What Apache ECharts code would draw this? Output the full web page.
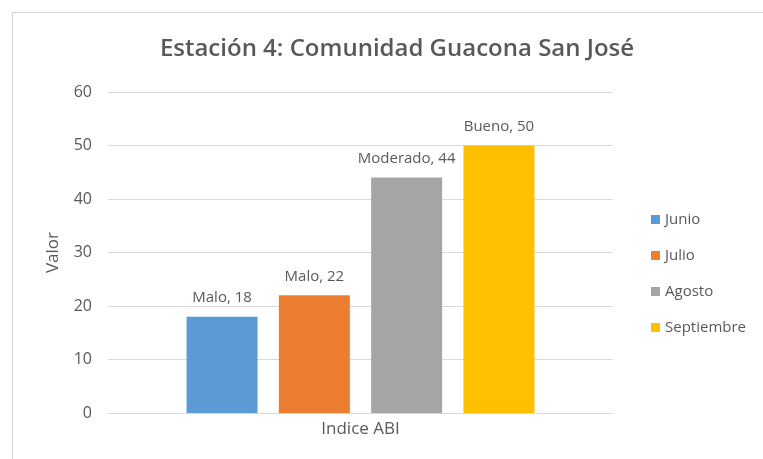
<!DOCTYPE html>
<html>
<head>
<meta charset="utf-8">
<script src="https://cdn.jsdelivr.net/npm/echarts@6/dist/echarts.min.js"></script>
<style>
  html, body { margin: 0; padding: 0; background: #fff; }
  #chart { position: absolute; left: 0; top: 0; width: 763px; height: 459px; }
  #frame { position: absolute; left: 12px; top: 12px; width: 760px; height: 460px;
           border-top: 1px solid #d4d4d4; border-left: 1px solid #d4d4d4; pointer-events: none; }
</style>
</head>
<body>
<div id="chart"></div>
<div id="frame"></div>
<script>
const categories = ['Indice ABI'];
const seriesNames = ['Junio', 'Julio', 'Agosto', 'Septiembre'];
const values = [18, 22, 44, 50];
const ratings = ['Malo', 'Malo', 'Moderado', 'Bueno'];
const colors = ['#5B9BD5', '#ED7D31', '#A5A5A5', '#FFC000'];
const yTicks = { min: 0, max: 60, interval: 10 };

const font = '"Open Sans", "Noto Sans", sans-serif';
const chart = echarts.init(document.getElementById('chart'));
chart.setOption({
  animation: false,
  title: {
    text: 'Estación 4: Comunidad Guacona San José',
    left: 392, top: 32, textAlign: 'center',
    textStyle: { fontFamily: font, fontSize: 24, fontWeight: 600, color: '#595959' }
  },
  legend: {
    orient: 'vertical', left: 646, top: 207,
    itemWidth: 9, itemHeight: 9, itemGap: 21,
    icon: 'rect',
    textStyle: { fontFamily: font, fontSize: 15, color: '#595959' },
    data: seriesNames
  },
  grid: { left: 108, right: 150, top: 92, bottom: 46 },
  xAxis: {
    type: 'category', data: categories,
    axisLine: { lineStyle: { color: '#d9d9d9' } },
    axisTick: { show: false },
    axisLabel: { fontFamily: font, fontSize: 17, color: '#595959', margin: 8 }
  },
  yAxis: {
    type: 'value', min: yTicks.min, max: yTicks.max, interval: yTicks.interval,
    name: 'Valor', nameLocation: 'middle', nameGap: 46, nameRotate: 90,
    nameTextStyle: { fontFamily: font, fontSize: 17, color: '#595959' },
    axisLine: { show: false }, axisTick: { show: false },
    axisLabel: { fontFamily: font, fontSize: 16, color: '#595959', margin: 16 },
    splitLine: { lineStyle: { color: '#d9d9d9' } }
  },
  series: seriesNames.map((name, i) => ({
    name: name, type: 'bar',
    barWidth: 71, barGap: '30%',
    itemStyle: { color: colors[i] },
    label: {
      show: true, position: 'top', distance: 11,
      fontFamily: font, fontSize: 15, color: '#595959',
      formatter: () => ratings[i] + ', ' + values[i]
    },
    data: [values[i]]
  }))
});
</script>
</body>
</html>
